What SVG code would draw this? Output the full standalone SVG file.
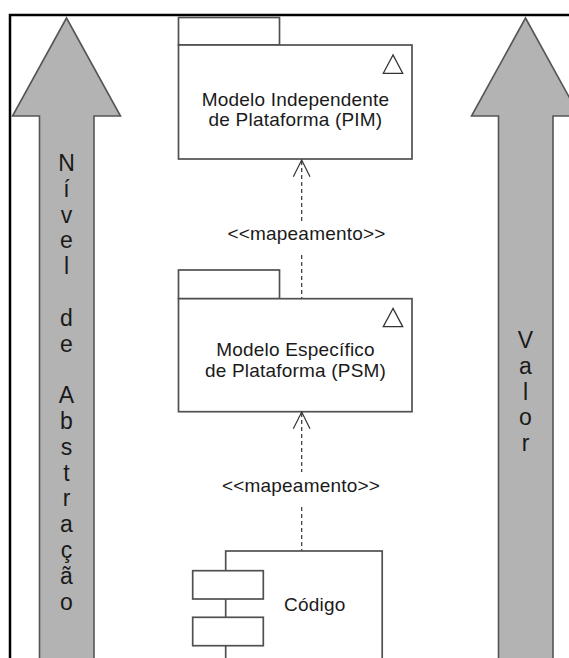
<svg xmlns="http://www.w3.org/2000/svg" width="569" height="658" viewBox="0 0 569 658">
<style>
.frame{fill:none;stroke:#000;stroke-width:2.5}
.bigarrow{fill:#b3b3b3;stroke:#555;stroke-width:1.6}
.box{fill:#fff;stroke:#505050;stroke-width:1.7}
.tri{fill:#fff;stroke:#333;stroke-width:1.3}
.dash{fill:none;stroke:#333;stroke-width:1.2;stroke-dasharray:4 3}
.head{fill:none;stroke:#333;stroke-width:1.2}
.t{font-family:"Liberation Sans",Arial,sans-serif;font-size:19px;letter-spacing:0.2px;fill:#1a1a1a}
.c{text-anchor:middle}
.col{font-family:"Liberation Sans",Arial,sans-serif;font-size:23px;fill:#1a1a1a;text-anchor:middle}
</style>
<rect width="569" height="658" fill="#fff"/>
<path class="frame" d="M10,660 V15 H570"/>
<g id="arrow-abstracao">
<polygon class="bigarrow" points="66.5,18 120.5,116 94,116 94,662 39.5,662 39.5,116 12.5,116"/>
<text class="col" x="66.5" y="171">N</text>
<text class="col" x="66.5" y="196.8">í</text>
<text class="col" x="66.5" y="222.6">v</text>
<text class="col" x="66.5" y="248.4">e</text>
<text class="col" x="66.5" y="274.2">l</text>
<text class="col" x="66.5" y="325.8">d</text>
<text class="col" x="66.5" y="351.6">e</text>
<text class="col" x="66.5" y="403.2">A</text>
<text class="col" x="66.5" y="429">b</text>
<text class="col" x="66.5" y="454.8">s</text>
<text class="col" x="66.5" y="480.6">t</text>
<text class="col" x="66.5" y="506.4">r</text>
<text class="col" x="66.5" y="532.2">a</text>
<text class="col" x="66.5" y="558">ç</text>
<text class="col" x="66.5" y="583.8">ã</text>
<text class="col" x="66.5" y="609.6">o</text>
</g>
<g id="arrow-valor">
<polygon class="bigarrow" points="525.5,18 579.5,116 553,116 553,662 498.5,662 498.5,116 471.5,116"/>
<text class="col" x="525.5" y="348">V</text>
<text class="col" x="525.5" y="373.8">a</text>
<text class="col" x="525.5" y="399.6">l</text>
<text class="col" x="525.5" y="425.4">o</text>
<text class="col" x="525.5" y="451.2">r</text>
</g>
<g id="pim">
<rect class="box" x="178.5" y="17.5" width="101" height="27.5"/>
<rect class="box" x="178.5" y="45" width="233.5" height="114"/>
<polygon class="tri" points="393,55 383.3,73.3 402.7,73.3"/>
<text class="t c" x="295.5" y="105.5">Modelo Independente</text>
<text class="t c" x="295.5" y="126">de Plataforma (PIM)</text>
</g>
<g id="psm">
<rect class="box" x="178.5" y="270" width="101" height="28.7"/>
<rect class="box" x="178.5" y="298.7" width="233.5" height="113"/>
<polygon class="tri" points="393,308.5 383.3,326.7 402.7,326.7"/>
<text class="t c" x="295.5" y="356">Modelo Específico</text>
<text class="t c" x="295.5" y="377">de Plataforma (PSM)</text>
</g>
<g id="codigo">
<rect class="box" x="225.7" y="551" width="156.5" height="120"/>
<rect class="box" x="192.7" y="570.7" width="70.6" height="28.3"/>
<rect class="box" x="192.7" y="617.3" width="70.6" height="28.4"/>
<text class="t" x="284" y="611">Código</text>
</g>
<g id="connectors">
<path class="dash" d="M301.7,161 V222 M301.7,255 V298"/>
<path class="head" d="M293.3,176.7 L301.7,160 L310,176.7"/>
<text class="t c" x="306.5" y="240">&lt;&lt;mapeamento&gt;&gt;</text>
<path class="dash" d="M301.7,413 V472 M301.7,507 V550.5"/>
<path class="head" d="M293.3,428.7 L301.7,412 L310,428.7"/>
<text class="t c" x="301" y="492">&lt;&lt;mapeamento&gt;&gt;</text>
</g>
</svg>
